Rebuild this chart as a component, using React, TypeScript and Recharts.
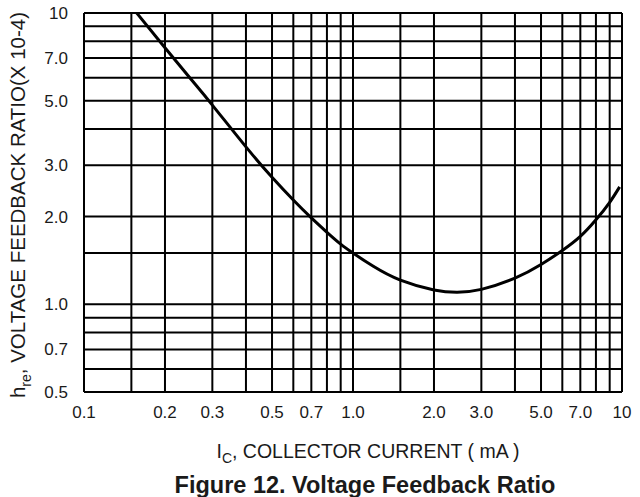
import React from "react";
import { LineChart, Line, XAxis, YAxis, CartesianGrid } from "recharts";

// collector current (mA) vs h_re (x 10^-4)
const currentMa = [0.157, 0.2, 0.25, 0.3, 0.4, 0.5, 0.6, 0.7, 0.81, 0.9, 1.0, 1.19, 1.5, 2.0, 2.44, 3.0, 4.0, 5.0, 6.0, 7.0, 8.0, 9.0, 9.8];
const hre = [10, 7.6, 5.92, 4.83, 3.47, 2.73, 2.28, 1.98, 1.75, 1.61, 1.5, 1.35, 1.21, 1.12, 1.1, 1.125, 1.23, 1.37, 1.53, 1.71, 1.95, 2.24, 2.53];

const xGrid = [0.1, 0.15, 0.2, 0.3, 0.4, 0.5, 0.6, 0.7, 0.8, 0.9, 1, 1.5, 2, 3, 4, 5, 6, 7, 8, 9, 10];
const yGrid = [0.5, 0.6, 0.7, 0.8, 0.9, 1, 1.5, 2, 3, 4, 5, 6, 7, 8, 9, 10];

const xLabels: Record<number, string> = {
  0.1: "0.1", 0.2: "0.2", 0.3: "0.3", 0.5: "0.5", 0.7: "0.7",
  1: "1.0", 2: "2.0", 3: "3.0", 5: "5.0", 7: "7.0", 10: "10",
};
const yLabels: Record<number, string> = {
  0.5: "0.5", 0.7: "0.7", 1: "1.0", 2: "2.0", 3: "3.0", 5: "5.0", 7: "7.0", 10: "10",
};

const data = currentMa.map((ic, i) => ({ ic, h: hre[i] }));

const FONT = '"Liberation Sans", Arial, sans-serif';
const TICK_SIZE = 17;

function XTick({ x, y, payload }: any) {
  const label = xLabels[payload.value];
  if (!label) return null;
  return (
    <text x={x} y={y + 24} textAnchor="middle" fontSize={TICK_SIZE} fontFamily={FONT} fill="#1a1a1a">
      {label}
    </text>
  );
}

function YTick({ x, y, payload }: any) {
  const label = yLabels[payload.value];
  if (!label) return null;
  return (
    <text x={x - 14} y={y + 6} textAnchor="end" fontSize={TICK_SIZE} fontFamily={FONT} fill="#1a1a1a">
      {label}
    </text>
  );
}

export default function App() {
  return (
    <div style={{ position: "relative", width: 640, height: 497, background: "#fff", fontFamily: FONT }}>
      <style>{"body{margin:0}"}</style>
      <LineChart width={640} height={497} data={data} margin={{ top: 13, right: 18, left: 0, bottom: 75 }}>
        <CartesianGrid stroke="#000" strokeWidth={2} />
        <XAxis
          dataKey="ic"
          type="number"
          scale="log"
          domain={[0.1, 10]}
          allowDataOverflow
          ticks={xGrid}
          interval={0}
          tick={<XTick />}
          tickLine={false}
          tickSize={0}
          height={30}
          axisLine={{ stroke: "#000", strokeWidth: 2 }}
        />
        <YAxis
          type="number"
          scale="log"
          domain={[0.5, 10]}
          allowDataOverflow
          ticks={yGrid}
          interval={0}
          tick={<YTick />}
          tickLine={false}
          tickSize={0}
          width={84}
          axisLine={{ stroke: "#000", strokeWidth: 2 }}
        />
        <Line
          type="natural"
          dataKey="h"
          stroke="#000"
          strokeWidth={3}
          dot={false}
          isAnimationActive={false}
        />
      </LineChart>

      {/* y axis title, rotated */}
      <div
        style={{
          position: "absolute", left: 20, top: 205, whiteSpace: "nowrap",
          transform: "translate(-50%, -50%) rotate(-90deg)",
          fontSize: 20.5, color: "#1a1a1a",
        }}
      >
        h<sub style={{ fontSize: 14 }}>re</sub>, VOLTAGE FEEDBACK RATIO(X 10-4)
      </div>

      <div
        style={{
          position: "absolute", left: 368, top: 453, whiteSpace: "nowrap",
          transform: "translate(-50%, -50%)", fontSize: 19.5, color: "#1a1a1a",
        }}
      >
        I<sub style={{ fontSize: 14 }}>C</sub>, COLLECTOR CURRENT ( mA )
      </div>

      <div
        style={{
          position: "absolute", left: 365, top: 485, whiteSpace: "nowrap",
          transform: "translate(-50%, -50%)", fontSize: 23.5, fontWeight: "bold", color: "#1a1a1a",
        }}
      >
        Figure 12. Voltage Feedback Ratio
      </div>
    </div>
  );
}
